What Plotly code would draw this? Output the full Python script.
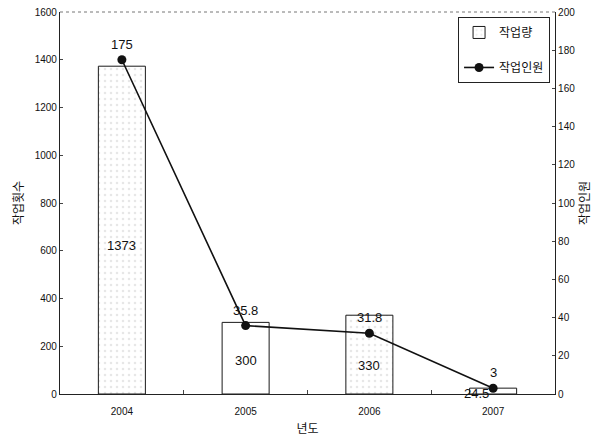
import plotly.graph_objects as go

# Yearly work volume (bars, left axis) and crew size (line, right axis)
years = ["2004", "2005", "2006", "2007"]
work_count = [1373, 300, 330, 24.5]
workers = [175, 35.8, 31.8, 3]

left_ticks = list(range(0, 1601, 200))
right_ticks = list(range(0, 201, 20))

FONT = "Liberation Sans, Arial, Noto Sans CJK KR, sans-serif"
KFONT = "Noto Sans CJK KR, Liberation Sans, sans-serif"

fig = go.Figure()

fig.add_trace(go.Bar(
    x=years, y=work_count, name="작업량",
    width=0.38,
    marker=dict(
        color="white",
        line=dict(color="#1a1a1a", width=1),
        pattern=dict(shape=[".", "", ".", ""], fgcolor="#d0d0d0",
                     bgcolor="white", size=6, solidity=0.15),
    ),
    legendgroup="a",
))

fig.add_trace(go.Scatter(
    x=years, y=workers, name="작업인원", yaxis="y2",
    mode="lines+markers",
    line=dict(color="#111111", width=1.6),
    marker=dict(color="#111111", size=9, symbol="circle"),
    legendgroup="b",
))

# crew size labels above the points
for i, v in enumerate(workers):
    fig.add_annotation(x=i, y=v, xref="x", yref="y2", text=f"{v:g}",
                       showarrow=False, yanchor="bottom", yshift=6,
                       font=dict(family=FONT, size=13, color="#111"))

# work volume labels inside the bars (vertical nudges in pixels)
bar_label_shift = [-15, -2, -11]
for i, v in enumerate(work_count):
    if v > 100:
        fig.add_annotation(x=i, y=v / 2, xref="x", yref="y", text=f"{v:g}",
                           showarrow=False, yshift=bar_label_shift[i],
                           font=dict(family=FONT, size=13, color="#111"))
    else:
        fig.add_annotation(x=i, y=v, xref="x", yref="y", text=f"{v:g}",
                           showarrow=False, xshift=-17, yshift=-5,
                           font=dict(family=FONT, size=13, color="#111"))

fig.update_layout(
    width=606, height=439,
    margin=dict(l=60, r=51, t=12, b=45),
    paper_bgcolor="white", plot_bgcolor="white",
    font=dict(family=FONT, size=10, color="#111"),
    showlegend=True,
    legend=dict(
        x=0.99, y=0.987, xanchor="right", yanchor="top",
        bordercolor="#222", borderwidth=1, bgcolor="white",
        font=dict(family=KFONT, size=12, color="#111"),
        tracegroupgap=16, traceorder="grouped",
    ),
    xaxis=dict(
        type="category", range=[-0.5, 3.5], automargin=False,
        showline=True, linecolor="#222", linewidth=1.2,
        ticks="inside", ticklen=4, tickson="boundaries", tickcolor="#444",
        showgrid=False, ticklabelstandoff=8,
        tickfont=dict(family=FONT, size=10),
        title=dict(text="년도", font=dict(family=KFONT, size=12), standoff=8),
    ),
    yaxis=dict(
        range=[0, 1600], tickvals=left_ticks, automargin=False,
        showline=True, linecolor="#222", linewidth=1.2,
        ticks="inside", ticklen=3, tickcolor="#444",
        showgrid=False, zeroline=False,
        tickfont=dict(family=FONT, size=10),
        title=dict(text="작업횟수", font=dict(family=KFONT, size=12), standoff=8),
    ),
    yaxis2=dict(
        range=[0, 200], tickvals=right_ticks, overlaying="y", side="right",
        automargin=False,
        showline=True, linecolor="#222", linewidth=1.2,
        ticks="inside", ticklen=3, tickcolor="#444",
        showgrid=False, zeroline=False,
        tickfont=dict(family=FONT, size=10),
        title=dict(text="작업인원", font=dict(family=KFONT, size=12), standoff=6),
    ),
    shapes=[dict(type="line", xref="paper", yref="paper", x0=0, x1=1, y0=1, y1=1,
                 line=dict(color="#777", width=1, dash="dot"))],
)

fig.write_html("out.html")
